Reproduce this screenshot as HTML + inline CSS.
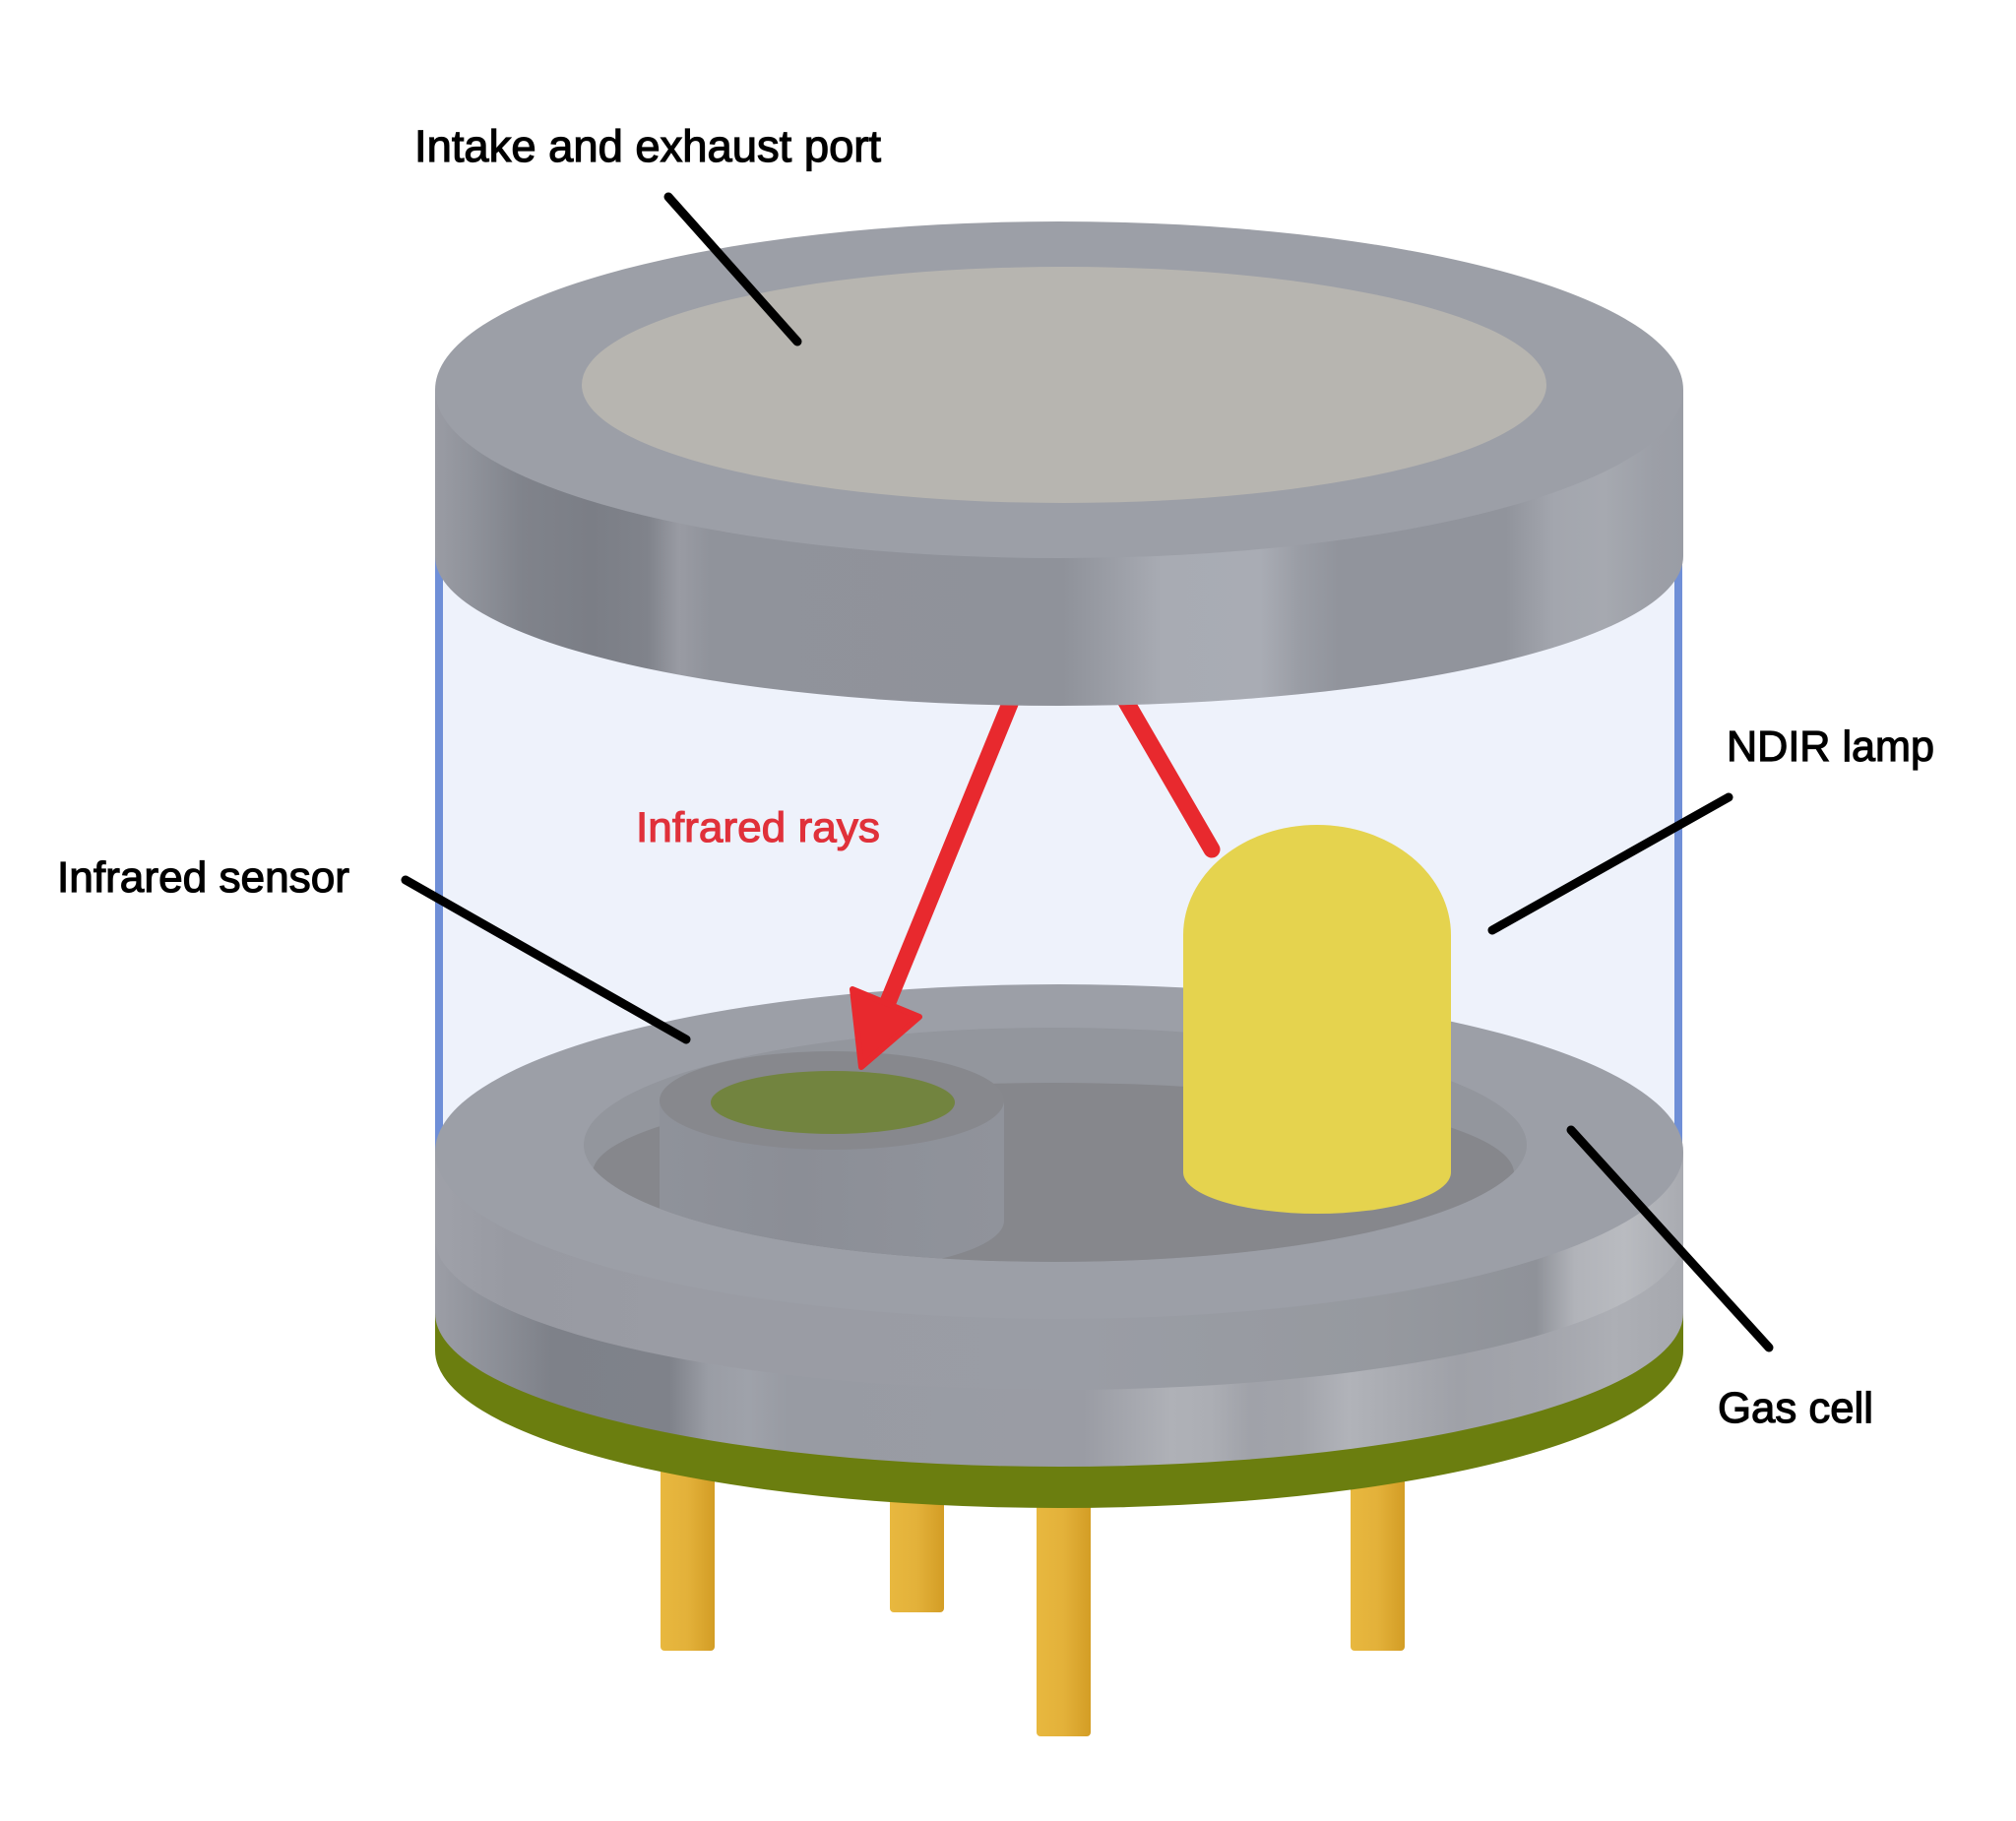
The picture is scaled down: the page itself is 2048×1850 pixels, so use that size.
<!DOCTYPE html>
<html>
<head>
<meta charset="utf-8">
<style>
  html, body { margin: 0; padding: 0; background: #ffffff; }
  svg { display: block; }
  .lbl { font-family: "Liberation Sans", "DejaVu Sans", sans-serif; fill: #000; stroke: #000; stroke-width: 1.2px; }
</style>
</head>
<body>
<svg width="2048" height="1850" viewBox="0 0 2048 1850" xmlns="http://www.w3.org/2000/svg">
  <defs>
    <linearGradient id="capSide" gradientUnits="userSpaceOnUse" x1="442" y1="0" x2="1710" y2="0">
      <stop offset="0" stop-color="#9a9ca4"/>
      <stop offset="0.03" stop-color="#8f929a"/>
      <stop offset="0.07" stop-color="#80838b"/>
      <stop offset="0.125" stop-color="#7b7e86"/>
      <stop offset="0.17" stop-color="#80838b"/>
      <stop offset="0.196" stop-color="#999ba3"/>
      <stop offset="0.22" stop-color="#90939b"/>
      <stop offset="0.503" stop-color="#8f929a"/>
      <stop offset="0.543" stop-color="#9b9ea6"/>
      <stop offset="0.582" stop-color="#a8abb3"/>
      <stop offset="0.661" stop-color="#a9acb4"/>
      <stop offset="0.692" stop-color="#9a9da5"/>
      <stop offset="0.724" stop-color="#91949c"/>
      <stop offset="0.858" stop-color="#91949c"/>
      <stop offset="0.897" stop-color="#a3a6ae"/>
      <stop offset="0.937" stop-color="#a6a9b0"/>
      <stop offset="0.976" stop-color="#9c9fa7"/>
      <stop offset="1" stop-color="#9a9da5"/>
    </linearGradient>
    <linearGradient id="g1" gradientUnits="userSpaceOnUse" x1="442" y1="0" x2="1710" y2="0">
      <stop offset="0" stop-color="#9fa1a9"/>
      <stop offset="0.06" stop-color="#989aa2"/>
      <stop offset="0.20" stop-color="#9a9ca4"/>
      <stop offset="0.52" stop-color="#9a9da5"/>
      <stop offset="0.756" stop-color="#96999f"/>
      <stop offset="0.882" stop-color="#8f9299"/>
      <stop offset="0.913" stop-color="#b1b3b9"/>
      <stop offset="0.953" stop-color="#b9bbc0"/>
      <stop offset="1" stop-color="#a9abb1"/>
    </linearGradient>
    <linearGradient id="g2" gradientUnits="userSpaceOnUse" x1="442" y1="0" x2="1710" y2="0">
      <stop offset="0" stop-color="#9c9ea6"/>
      <stop offset="0.046" stop-color="#8d9098"/>
      <stop offset="0.093" stop-color="#7e8189"/>
      <stop offset="0.188" stop-color="#7f828a"/>
      <stop offset="0.219" stop-color="#9a9da5"/>
      <stop offset="0.251" stop-color="#9fa2aa"/>
      <stop offset="0.282" stop-color="#989ba3"/>
      <stop offset="0.519" stop-color="#9a9ca4"/>
      <stop offset="0.59" stop-color="#afb1b7"/>
      <stop offset="0.621" stop-color="#acaeb4"/>
      <stop offset="0.653" stop-color="#a0a2a9"/>
      <stop offset="0.692" stop-color="#a2a4ab"/>
      <stop offset="0.732" stop-color="#b1b3b9"/>
      <stop offset="0.771" stop-color="#a9abb1"/>
      <stop offset="0.819" stop-color="#9fa1a8"/>
      <stop offset="0.89" stop-color="#a3a5ac"/>
      <stop offset="0.945" stop-color="#adafb5"/>
      <stop offset="1" stop-color="#a6a8ae"/>
    </linearGradient>
    <linearGradient id="pin" x1="0" y1="0" x2="1" y2="0">
      <stop offset="0" stop-color="#e8b83f"/>
      <stop offset="0.5" stop-color="#e3b13a"/>
      <stop offset="1" stop-color="#d39d25"/>
    </linearGradient>
    <linearGradient id="sens" gradientUnits="userSpaceOnUse" x1="670" y1="0" x2="1020" y2="0">
      <stop offset="0" stop-color="#8f929a"/>
      <stop offset="0.4" stop-color="#8b8e96"/>
      <stop offset="0.7" stop-color="#8e9199"/>
      <stop offset="1" stop-color="#90939b"/>
    </linearGradient>
    <clipPath id="recessClip">
      <ellipse cx="1072" cy="1163" rx="479" ry="119"/>
    </clipPath>
  </defs>

  <rect x="0" y="0" width="2048" height="1850" fill="#ffffff"/>

  <!-- pins -->
  <rect x="671" y="1400" width="55" height="277" rx="4" fill="url(#pin)"/>
  <rect x="904" y="1400" width="55" height="238" rx="4" fill="url(#pin)"/>
  <rect x="1053" y="1400" width="55" height="364" rx="4" fill="url(#pin)"/>
  <rect x="1372" y="1400" width="55" height="277" rx="4" fill="url(#pin)"/>

  <!-- glass cell -->
  <rect x="446" y="540" width="1259" height="660" fill="#eef2fb"/>
  <line x1="446" y1="560" x2="446" y2="1185" stroke="#6f8fd7" stroke-width="8"/>
  <line x1="1705" y1="560" x2="1705" y2="1185" stroke="#6f8fd7" stroke-width="8"/>

  <!-- base -->
  <ellipse cx="1076" cy="1372" rx="634" ry="160" fill="#6b7e0f"/>
  <rect x="442" y="1170" width="1268" height="202" fill="#6b7e0f"/>
  <ellipse cx="1076" cy="1334" rx="634" ry="156" fill="url(#g2)"/>
  <rect x="442" y="1170" width="1268" height="164" fill="url(#g2)"/>
  <ellipse cx="1076" cy="1258" rx="634" ry="154" fill="url(#g1)"/>
  <rect x="442" y="1170" width="1268" height="88" fill="url(#g1)"/>
  <ellipse cx="1076" cy="1170" rx="634" ry="170" fill="#9c9fa7"/>

  <!-- recess -->
  <ellipse cx="1072" cy="1163" rx="479" ry="119" fill="#93969d"/>
  <ellipse cx="1070" cy="1192" rx="468" ry="92" fill="#86878c" clip-path="url(#recessClip)"/>

  <!-- sensor -->
  <g clip-path="url(#recessClip)">
    <rect x="670" y="1118" width="350" height="122" fill="url(#sens)"/>
    <ellipse cx="845" cy="1240" rx="175" ry="50" fill="url(#sens)"/>
  </g>
  <ellipse cx="845" cy="1118" rx="175" ry="50" fill="#87888d"/>
  <ellipse cx="846" cy="1120" rx="124" ry="32" fill="#72843f"/>

  <!-- NDIR lamp -->
  <path d="M1202,1191 L1202,950 A136,112 0 0 1 1474,950 L1474,1191 A136,42 0 0 1 1202,1191 Z" fill="#e5d34e"/>

  <!-- infrared rays -->
  <line x1="1030" y1="705" x2="902" y2="1018" stroke="#e8292e" stroke-width="17"/>
  <polygon points="866,1005 934,1033 875,1084" fill="#e8292e" stroke="#e8292e" stroke-width="6" stroke-linejoin="round"/>
  <line x1="1140" y1="706" x2="1231" y2="863" stroke="#e8292e" stroke-width="17" stroke-linecap="round"/>

  <!-- top cap -->
  <ellipse cx="1076" cy="565" rx="634" ry="152" fill="url(#capSide)"/>
  <rect x="442" y="396" width="1268" height="169" fill="url(#capSide)"/>
  <ellipse cx="1076" cy="396" rx="634" ry="171" fill="#9c9fa7"/>
  <ellipse cx="1081" cy="391" rx="490" ry="120" fill="#b7b5b0"/>

  <!-- leader lines -->
  <g stroke="#000" stroke-width="9" stroke-linecap="round">
    <line x1="679" y1="200" x2="810" y2="347"/>
    <line x1="412" y1="894" x2="697" y2="1056"/>
    <line x1="1756" y1="810" x2="1516" y2="945"/>
    <line x1="1596" y1="1148" x2="1797" y2="1369"/>
  </g>

  <!-- labels -->
  <text class="lbl" x="421" y="164" font-size="45" textLength="474" lengthAdjust="spacingAndGlyphs">Intake and exhaust port</text>
  <text class="lbl" x="58" y="906" font-size="44" textLength="297" lengthAdjust="spacingAndGlyphs">Infrared sensor</text>
  <text class="lbl" x="1754" y="773" font-size="44" textLength="211" lengthAdjust="spacingAndGlyphs">NDIR lamp</text>
  <text class="lbl" x="1745" y="1445" font-size="44" textLength="158" lengthAdjust="spacingAndGlyphs">Gas cell</text>
  <text x="646" y="855" font-size="43" textLength="248" lengthAdjust="spacingAndGlyphs" style="font-family:'Liberation Sans','DejaVu Sans',sans-serif; fill:#e0313a; stroke:#e0313a; stroke-width:1.1px;">Infrared rays</text>
</svg>
</body>
</html>
